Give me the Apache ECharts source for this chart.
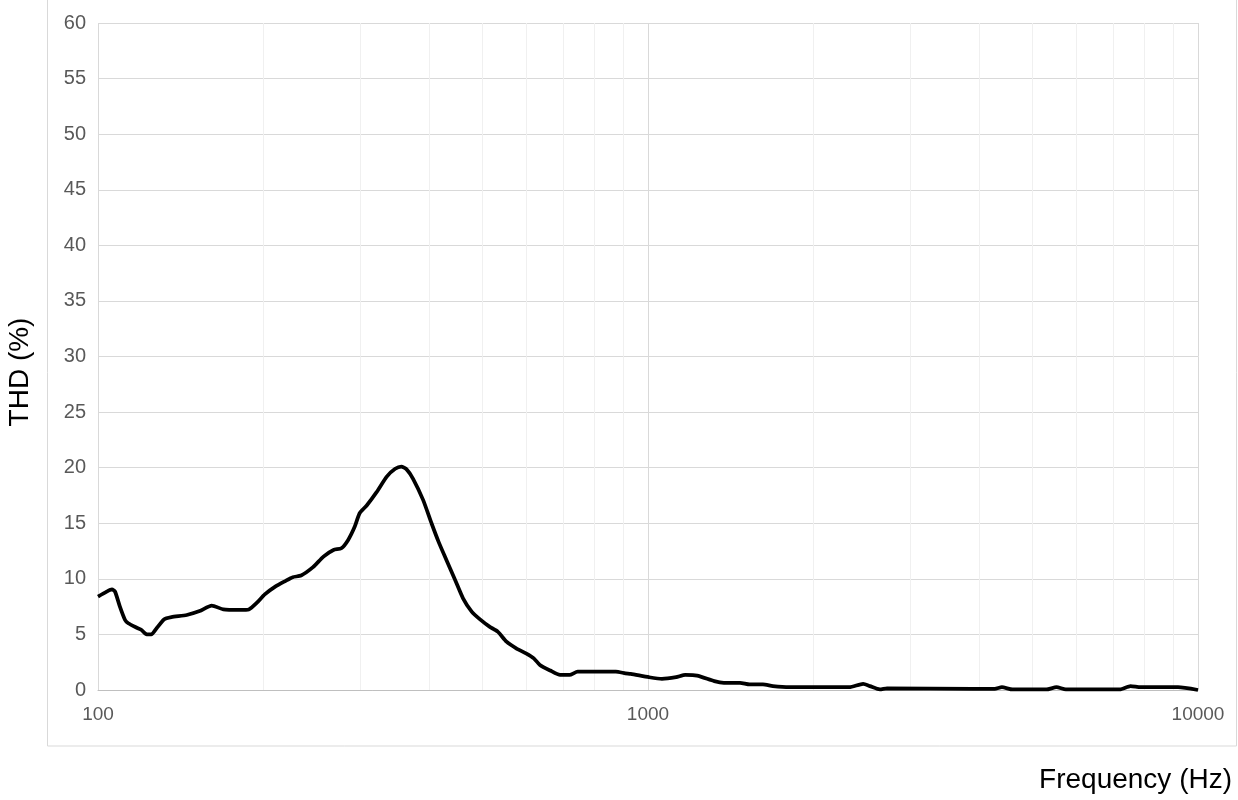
<!DOCTYPE html>
<html>
<head>
<meta charset="utf-8">
<script src="https://cdn.jsdelivr.net/npm/echarts@6/dist/echarts.min.js"></script>
<style>
    html, body { margin: 0; padding: 0; background: #fff; }
    #chart { width: 1238px; height: 800px; }
</style>
</head>
<body>
<div id="chart"></div>
<script>
// frequency (Hz) and THD (%)
let freq = [100, 103.7, 106, 107.4, 109.6, 112, 113.5, 117.6, 120, 122.6, 125, 127.8, 131.8, 136, 145, 153, 161, 169, 181, 188,
    194.5, 201, 210, 219, 226, 234, 246, 257, 268, 277, 285, 293, 299, 308, 321, 335, 347, 356, 364, 374,
    390, 404, 416, 430, 446, 461, 478, 495, 515, 533, 553, 576, 600, 620, 636, 664, 692, 720, 745, 874,
    910, 930, 1004, 1060, 1125, 1169, 1228, 1320, 1374, 1470, 1530, 1618, 1687, 1807, 2323, 2461, 2532, 2640, 2720, 3900,
    4270, 4400, 4600, 5300, 5530, 5750, 7210, 7540, 7860, 9200, 10000];
let thd = [8.4, 8.85, 9.05, 8.85, 7.5, 6.3, 6.0, 5.6, 5.4, 5.0, 5.0, 5.55, 6.35, 6.55, 6.75, 7.1, 7.6, 7.25, 7.2, 7.25,
    7.85, 8.6, 9.3, 9.8, 10.15, 10.3, 11.05, 12.0, 12.6, 12.75, 13.5, 14.7, 15.9, 16.6, 17.8, 19.2, 19.9, 20.1, 19.85, 19.0,
    17.1, 15.0, 13.35, 11.7, 9.9, 8.25, 7.05, 6.35, 5.7, 5.25, 4.35, 3.75, 3.3, 2.85, 2.25, 1.75, 1.35, 1.35, 1.65, 1.65,
    1.5, 1.45, 1.15, 1.0, 1.15, 1.35, 1.3, 0.8, 0.65, 0.65, 0.5, 0.5, 0.35, 0.25, 0.25, 0.55, 0.35, 0.05, 0.15, 0.1,
    0.1, 0.25, 0.05, 0.05, 0.25, 0.05, 0.05, 0.35, 0.25, 0.25, 0.0];

// minor vertical gridlines of the log axis
let minor_grid = [200, 300, 400, 500, 600, 700, 800, 900, 2000, 3000, 4000, 5000, 6000, 7000, 8000, 9000];

let curve = [];
for (let i = 0; i < freq.length; i++) {
    curve.push([freq[i], thd[i]]);
}

var chartDom = document.getElementById('chart');
var myChart = echarts.init(chartDom);
var option = {
    animation: false,
    backgroundColor: '#fff',
    grid: {
        left: 98,
        right: 40,
        top: 23,
        bottom: 110,
        containLabel: false,
        outerBoundsMode: 'none'
    },
    graphic: [
        {
            type: 'rect',
            silent: true,
            z: -1,
            shape: { x: 47.5, y: -10, width: 1189, height: 756 },
            style: { fill: 'none', stroke: '#d9d9d9', lineWidth: 1 }
        },
        {
            type: 'text',
            x: 20,
            y: 372,
            rotation: Math.PI / 2,
            style: {
                text: 'THD (%)',
                font: '28px "Liberation Sans", Arial, sans-serif',
                fill: '#000',
                align: 'center',
                verticalAlign: 'middle'
            }
        },
        {
            type: 'text',
            x: 1232,
            y: 780,
            style: {
                text: 'Frequency (Hz)',
                font: '28px "Liberation Sans", Arial, sans-serif',
                fill: '#000',
                align: 'right',
                verticalAlign: 'middle'
            }
        }
    ],
    xAxis: {
        type: 'log',
        logBase: 10,
        min: 100,
        max: 10000,
        axisLine: { show: true, lineStyle: { color: '#bfbfbf', width: 1 } },
        axisTick: { show: false },
        splitLine: { show: true, lineStyle: { color: '#d9d9d9', width: 1 } },
        axisLabel: {
            color: '#595959',
            fontSize: 19,
            fontFamily: '"Liberation Sans", Arial, sans-serif',
            margin: 15,
            formatter: function (v) { return String(Math.round(v)); }
        }
    },
    yAxis: {
        type: 'value',
        min: 0,
        max: 60,
        interval: 5,
        axisLine: { show: false },
        axisTick: { show: false },
        splitLine: { show: true, lineStyle: { color: '#d9d9d9', width: 1 } },
        axisLabel: {
            color: '#595959',
            fontSize: 20,
            fontFamily: '"Liberation Sans", Arial, sans-serif',
            margin: 12
        }
    },
    series: [
        {
            type: 'line',
            data: curve,
            showSymbol: false,
            symbol: 'none',
            smooth: 0.2,
            z: 3,
            lineStyle: { color: '#000', width: 3.75 },
            markLine: {
                silent: true,
                z: 1,
                symbol: ['none', 'none'],
                label: { show: false },
                emphasis: { disabled: true },
                lineStyle: { type: 'solid', color: '#f0f0f0', width: 1 },
                data: minor_grid.map(function (f) { return { xAxis: f }; })
            }
        }
    ]
};

myChart.setOption(option);
</script>
</body>
</html>
